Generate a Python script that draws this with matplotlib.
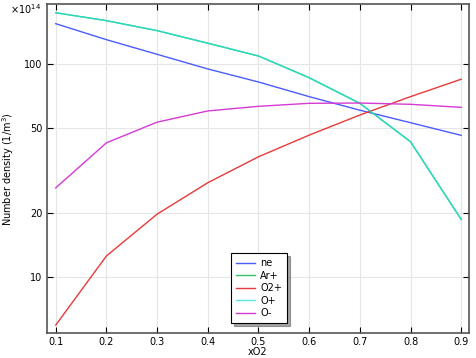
import numpy as np
import matplotlib
matplotlib.use("Agg")
import matplotlib.pyplot as plt
from matplotlib.ticker import FixedLocator, FixedFormatter, NullLocator

# data (units of 1e14 1/m^3)
xo2 = [0.1, 0.2, 0.3, 0.4, 0.5, 0.6, 0.7, 0.8, 0.9]
ne = [155.1, 130.5, 111.4, 95.1, 82.6, 70.5, 60.9, 53.2, 46.4]
ar_plus = [174.6, 160.3, 143.9, 125.6, 109.4, 86.5, 65.6, 43.3, 18.7]
o2_plus = [5.97, 12.6, 19.8, 27.8, 36.8, 46.5, 57.8, 70.5, 85.1]
o_plus = [174.6, 160.3, 143.9, 125.6, 109.4, 86.5, 65.6, 43.3, 18.7]
o_minus = [26.3, 42.8, 53.5, 60.4, 63.5, 65.6, 65.8, 64.9, 62.8]

y_ticks = [10, 20, 50, 100]
x_ticks = [0.1, 0.2, 0.3, 0.4, 0.5, 0.6, 0.7, 0.8, 0.9]

fig = plt.figure(figsize=(4.77, 3.58), dpi=100)
ax = fig.add_axes([0.098, 0.069, 0.885, 0.919])

ax.plot(xo2, ne, color='#4a5cff', lw=1.0, label='ne')
ax.plot(xo2, ar_plus, color='#33c46a', lw=1.0, label='Ar+')
ax.plot(xo2, o2_plus, color='#e83a3a', lw=1.0, label='O2+')
ax.plot(xo2, o_plus, color='#22e0e0', lw=1.0, alpha=0.75, label='O+')
ax.plot(xo2, o_minus, color='#d43ad4', lw=1.0, label='O-')

ax.set_yscale('log')
ax.set_xlim(0.0822, 0.9152)
ax.set_ylim(5.46, 191.3)

ax.yaxis.set_major_locator(FixedLocator(y_ticks))
ax.yaxis.set_major_formatter(FixedFormatter([str(v) for v in y_ticks]))
ax.yaxis.set_minor_locator(NullLocator())
ax.set_xticks(x_ticks)
ax.set_xticklabels([f'{v:.1f}' for v in x_ticks])

ax.tick_params(axis='both', which='major', direction='in', length=4, width=0.8,
               labelsize=7, top=True, right=True, pad=3)
ax.grid(True, color='#e6e6e6', lw=0.8)
ax.set_axisbelow(True)
for s in ax.spines.values():
    s.set_color('#555555')
    s.set_linewidth(1.2)

ax.set_xlabel('xO2', fontsize=7, labelpad=0)
ax.set_ylabel('Number density (1/m$^3$)', fontsize=7, labelpad=6)

fig.text(0.021, 0.975, r'$\times$10$^{14}$', fontsize=7, ha='left', va='center')

leg = ax.legend(loc='lower center', bbox_to_anchor=(0.503, 0.017), fontsize=7,
                frameon=True, fancybox=False, shadow=True, edgecolor='black',
                handlelength=2.0, handletextpad=0.5, borderpad=0.5,
                labelspacing=0.25, framealpha=1)
leg.get_frame().set_linewidth(0.8)

fig.savefig('out.png', dpi=100)
